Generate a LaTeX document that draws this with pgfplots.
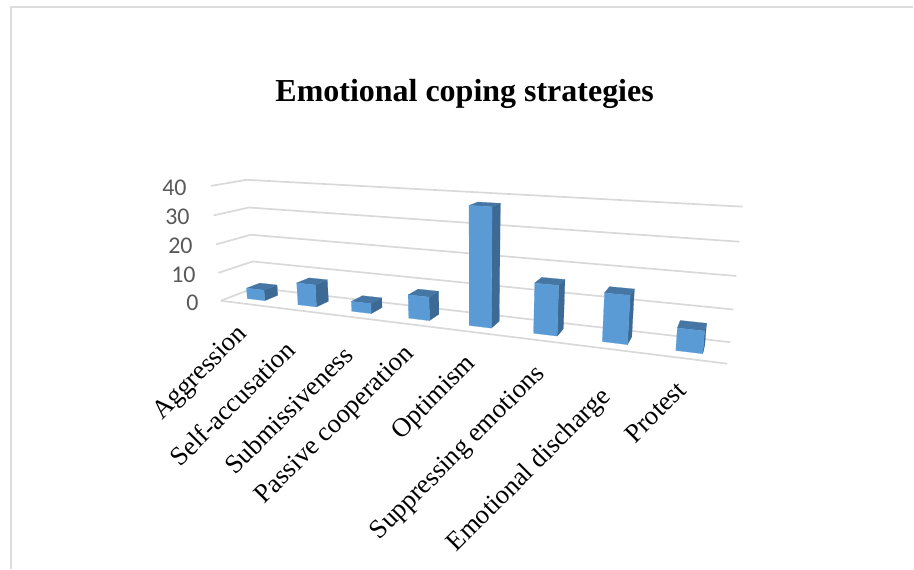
\documentclass[border=0pt]{standalone}
\usepackage{pgfplots}
\usepackage{pgfplotstable}
\usepackage{fontspec}
\pgfplotsset{compat=1.18}
\setmainfont{Liberation Serif}
\newfontfamily\calibri{Carlito}

\definecolor{barfront}{HTML}{5B9BD5}
\definecolor{barside}{HTML}{3C6A94}
\definecolor{bartop}{HTML}{4676A4}
\definecolor{gridgray}{HTML}{D9D9D9}
\definecolor{ticktext}{HTML}{595959}
\definecolor{framegray}{HTML}{DDDDDD}

% Chart values
\pgfplotstableread{
idx value
0   3.8
1   7.7
2   3.4
3   7.8
4   37.8
5   15.7
6   14.8
7   6.7
}\coping

% Unit-box corners of each visible bar face
\pgfplotstableread{
a b c
0 0 0
1 0 0
1 0 1
0 0 1
}\frontface
\pgfplotstableread{
a b c
1 0 0
1 1 0
1 1 1
1 0 1
}\sideface
\pgfplotstableread{
a b c
0 0 1
1 0 1
1 1 1
0 1 1
}\topface
\pgfplotstableread{
u d
0 0
0 1
1 1
}\wallline
\pgfplotstableread{
u d
0 0
1 0
}\floorfront

% Perspective projection of the chart box: u along categories, d in depth, t = value/40
\newcommand\projw[3]{(1-0.225*(#1)+0.0664*(#2)-0.0378*(#3))}
\newcommand\projx[3]{((221+343.2*(#1)+50.9*(#2)-17.84*(#3))/\projw{#1}{#2}{#3})}
\newcommand\projy[3]{((301-18.9*(#1)+6.1*(#2)-122*(#3))/\projw{#1}{#2}{#3})}

% One face of one bar: category index, value, face table, colour
\newcommand\barface[4]{%
  \addplot[fill=#4,draw=#4,line width=0.2pt,mark=none,forget plot] table[
    x expr={\projx{((#1+0.325+0.35*\thisrow{a})/8)}{(0.3+0.4*\thisrow{b})}{(#2/40*\thisrow{c})}},
    y expr={\projy{((#1+0.325+0.35*\thisrow{a})/8)}{(0.3+0.4*\thisrow{b})}{(#2/40*\thisrow{c})}}
  ] {#3} -- cycle;
}
\newcommand\onebar[2]{%
  \barface{#1}{#2}{\sideface}{barside}
  \barface{#1}{#2}{\topface}{bartop}
  \barface{#1}{#2}{\frontface}{barfront}
}
\newcommand\ticklab[3]{\node[font=\fontsize{24}{26}\selectfont\calibri,text=ticktext,anchor=east,inner sep=0pt] at (axis cs:#2,#3) {#1};}
\newcommand\catlab[3]{\node[font=\fontsize{26.6}{28}\selectfont,rotate=45,anchor=base east,inner sep=0pt] at (axis cs:#2,#3) {#1};}

\begin{document}
\begin{tikzpicture}
\begin{axis}[
  scale only axis, width=914pt, height=569pt,
  xmin=0, xmax=914, ymin=0, ymax=569, y dir=reverse,
  hide axis, clip=false,
  grid line/.style={gridgray,line width=1.7pt,mark=none,forget plot},
]
  % Full page extent
  \path (axis cs:0,0) rectangle (axis cs:914,569);

  % Page frame
  \draw[framegray,line width=1.6pt] (axis cs:11,569) -- (axis cs:11,7) -- (axis cs:914,7);

  % Walls and floor
  \pgfplotsinvokeforeach{0,10,20,30,40}{
    \addplot[grid line] table[
      x expr={\projx{\thisrow{u}}{\thisrow{d}}{(#1/40)}},
      y expr={\projy{\thisrow{u}}{\thisrow{d}}{(#1/40)}}
    ] {\wallline};
  }
  \addplot[grid line] table[
    x expr={\projx{\thisrow{u}}{\thisrow{d}}{0}},
    y expr={\projy{\thisrow{u}}{\thisrow{d}}{0}}
  ] {\floorfront};

  % Bars, left to right
  \pgfplotsinvokeforeach{0,...,7}{
    \pgfplotstablegetelem{#1}{value}\of{\coping}
    \edef\barvalue{\pgfplotsretval}
    \edef\next{\noexpand\onebar{#1}{\barvalue}}
    \next
  }

  % Title
  \node[font=\fontsize{32}{34}\selectfont\bfseries,anchor=center] at (axis cs:465,94) {Emotional coping strategies};

  % Value axis labels
  \ticklab{40}{187}{188}
  \ticklab{30}{190}{217}
  \ticklab{20}{193}{246}
  \ticklab{10}{196}{275}
  \ticklab{0}{199}{303}

  % Category labels
  \catlab{Aggression}{248}{335}
  \catlab{Self-accusation}{297}{352}
  \catlab{Submissiveness}{355}{357}
  \catlab{Passive cooperation}{415}{355}
  \catlab{Optimism}{477}{365}
  \catlab{Suppressing emotions}{546}{375}
  \catlab{Emotional discharge}{612}{398}
  \catlab{Protest}{688}{392}
\end{axis}
\end{tikzpicture}
\end{document}
